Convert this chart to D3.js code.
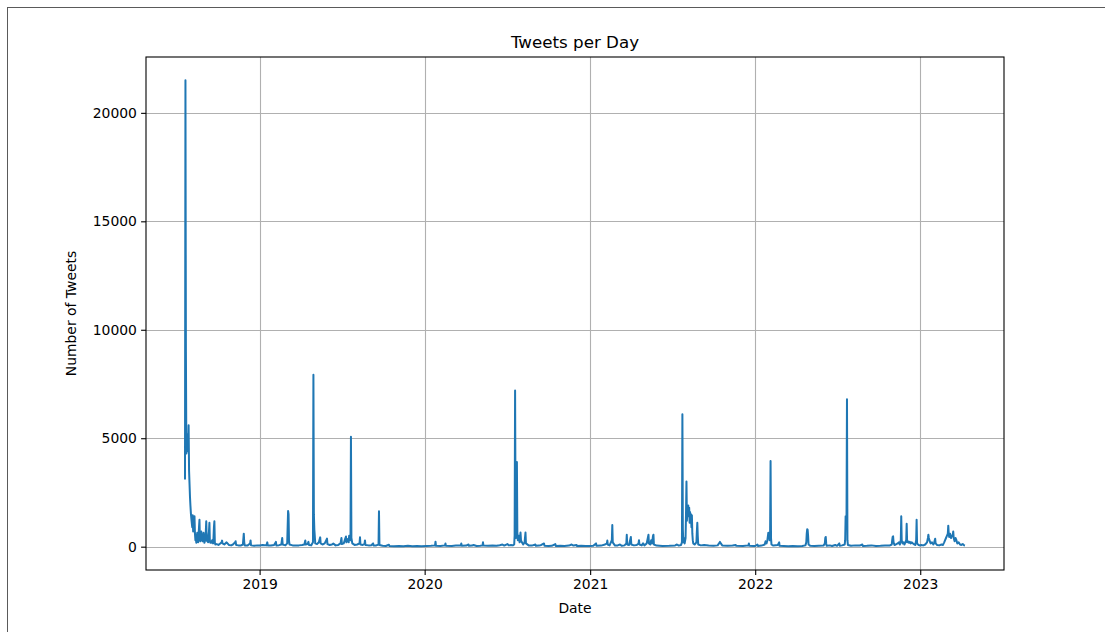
<!DOCTYPE html>
<html>
<head>
<meta charset="utf-8">
<script src="https://cdn.jsdelivr.net/npm/d3@7"></script>
<style>
  html, body { margin: 0; padding: 0; background: #ffffff; }
  svg { display: block; }
  text { font-family: "DejaVu Sans", sans-serif; fill: #000; }
</style>
</head>
<body>
<svg id="chart" width="1105" height="632"></svg>
<script>
// ---- data (daily tweet counts) ----
const tweets2018 = [
  ["2018-07-20",3100],["2018-07-21",21500],["2018-07-22",9000],["2018-07-23",4300],["2018-07-24",5000],
  ["2018-07-25",4400],["2018-07-26",5200],["2018-07-27",4600],["2018-07-28",5600],["2018-07-29",3500],
  ["2018-07-30",2900],["2018-07-31",2300],["2018-08-01",1900],["2018-08-02",1550],["2018-08-03",1300],
  ["2018-08-04",1100],["2018-08-05",900],["2018-08-06",1450],["2018-08-07",700],["2018-08-08",900],
  ["2018-08-09",1100],["2018-08-10",1400],["2018-08-11",600],["2018-08-12",300],["2018-08-13",400],
  ["2018-08-14",180],["2018-08-15",450],["2018-08-16",640],["2018-08-17",300],["2018-08-18",200],
  ["2018-08-19",500],["2018-08-20",900],["2018-08-21",1240],["2018-08-22",300],["2018-08-23",250],
  ["2018-08-24",500],["2018-08-25",700],["2018-08-26",450],["2018-08-27",300],["2018-08-28",250],
  ["2018-08-29",400],["2018-08-30",640],["2018-08-31",350],["2018-09-01",180],["2018-09-02",250],
  ["2018-09-03",400],["2018-09-04",700],["2018-09-05",1170],["2018-09-06",350],["2018-09-07",250],
  ["2018-09-08",300],["2018-09-09",200],["2018-09-10",500],["2018-09-11",700],["2018-09-12",1100],
  ["2018-09-13",250],["2018-09-14",180],["2018-09-15",200],["2018-09-16",250],["2018-09-17",180],
  ["2018-09-18",300],["2018-09-19",200],["2018-09-20",150],["2018-09-21",400],["2018-09-22",900],
  ["2018-09-23",1170],["2018-09-24",200],["2018-09-25",100],["2018-09-28",120],["2018-10-02",80],
  ["2018-10-06",150],["2018-10-09",200],["2018-10-10",280],["2018-10-11",150],["2018-10-15",100],
  ["2018-10-20",200],["2018-10-25",80],["2018-10-30",60],["2018-11-03",100],["2018-11-08",200],
  ["2018-11-09",250],["2018-11-10",80],["2018-11-15",60],["2018-11-20",50],["2018-11-25",100],
  ["2018-11-26",350],["2018-11-27",600],["2018-11-28",200],["2018-11-29",60],["2018-12-05",50],
  ["2018-12-11",150],["2018-12-12",290],["2018-12-13",60],["2018-12-20",40],["2018-12-27",60]
];
const tweets2019 = [
  ["2019-01-01",50],["2019-01-08",80],["2019-01-16",60],["2019-01-18",200],["2019-01-19",60],
  ["2019-01-26",50],["2019-02-02",80],["2019-02-06",220],["2019-02-07",60],["2019-02-13",70],
  ["2019-02-18",100],["2019-02-20",400],["2019-02-21",100],["2019-02-27",60],["2019-03-03",150],
  ["2019-03-04",900],["2019-03-05",1650],["2019-03-06",1500],["2019-03-07",300],["2019-03-08",100],
  ["2019-03-15",60],["2019-03-22",50],["2019-03-29",60],["2019-04-05",80],["2019-04-10",100],
  ["2019-04-12",290],["2019-04-13",100],["2019-04-17",120],["2019-04-19",220],["2019-04-20",80],
  ["2019-04-25",60],["2019-04-29",200],["2019-04-30",7930],["2019-05-01",1500],["2019-05-02",800],
  ["2019-05-03",500],["2019-05-04",150],["2019-05-08",120],["2019-05-12",200],["2019-05-15",430],
  ["2019-05-16",150],["2019-05-20",100],["2019-05-25",150],["2019-05-30",370],["2019-05-31",120],
  ["2019-06-05",80],["2019-06-10",100],["2019-06-13",150],["2019-06-18",60],["2019-06-24",80],
  ["2019-06-29",150],["2019-07-01",400],["2019-07-02",120],["2019-07-06",150],["2019-07-09",350],
  ["2019-07-11",470],["2019-07-12",200],["2019-07-15",350],["2019-07-17",200],["2019-07-18",500],
  ["2019-07-21",300],["2019-07-22",5070],["2019-07-23",400],["2019-07-25",150],["2019-07-30",80],
  ["2019-08-05",100],["2019-08-10",150],["2019-08-11",430],["2019-08-12",100],["2019-08-17",80],
  ["2019-08-21",120],["2019-08-22",290],["2019-08-23",80],["2019-08-30",60],["2019-09-05",70],
  ["2019-09-09",150],["2019-09-10",50],["2019-09-16",60],["2019-09-21",100],["2019-09-22",1630],
  ["2019-09-23",80],["2019-09-30",40],["2019-10-07",30],["2019-10-14",90],["2019-10-15",30],
  ["2019-10-25",20],["2019-11-05",30],["2019-11-15",20],["2019-11-25",40],["2019-12-05",20],
  ["2019-12-15",30],["2019-12-25",20]
];
const tweets2020 = [
  ["2020-01-05",30],["2020-01-15",40],["2020-01-24",60],["2020-01-25",230],["2020-01-26",40],
  ["2020-02-05",30],["2020-02-15",60],["2020-02-16",150],["2020-02-17",40],["2020-03-01",30],
  ["2020-03-10",50],["2020-03-21",60],["2020-03-22",150],["2020-03-23",40],["2020-04-02",50],
  ["2020-04-07",100],["2020-04-08",40],["2020-04-15",50],["2020-04-18",80],["2020-04-25",30],
  ["2020-05-03",40],["2020-05-08",60],["2020-05-09",200],["2020-05-10",50],["2020-05-20",40],
  ["2020-05-30",50],["2020-06-08",40],["2020-06-15",70],["2020-06-21",100],["2020-06-25",50],
  ["2020-07-02",120],["2020-07-05",60],["2020-07-10",80],["2020-07-14",60],["2020-07-17",100],
  ["2020-07-18",500],["2020-07-19",7200],["2020-07-20",1500],["2020-07-21",400],["2020-07-22",600],
  ["2020-07-23",3900],["2020-07-24",600],["2020-07-25",300],["2020-07-27",500],["2020-07-29",200],
  ["2020-07-31",650],["2020-08-01",300],["2020-08-03",200],["2020-08-06",100],["2020-08-09",200],
  ["2020-08-11",650],["2020-08-12",150],["2020-08-18",60],["2020-08-25",50],["2020-09-02",100],
  ["2020-09-03",40],["2020-09-10",50],["2020-09-15",80],["2020-09-21",150],["2020-09-22",40],
  ["2020-10-01",30],["2020-10-08",40],["2020-10-16",120],["2020-10-17",30],["2020-10-27",40],
  ["2020-11-05",30],["2020-11-15",50],["2020-11-21",100],["2020-11-25",50],["2020-12-02",80],
  ["2020-12-03",30],["2020-12-12",40],["2020-12-22",30]
];
const tweets2021 = [
  ["2021-01-01",30],["2021-01-08",40],["2021-01-14",150],["2021-01-15",40],["2021-01-25",50],
  ["2021-02-03",100],["2021-02-07",150],["2021-02-08",280],["2021-02-09",100],["2021-02-13",60],
  ["2021-02-18",300],["2021-02-19",1000],["2021-02-20",200],["2021-02-25",50],["2021-03-03",60],
  ["2021-03-08",100],["2021-03-12",40],["2021-03-18",60],["2021-03-22",150],["2021-03-23",550],
  ["2021-03-24",100],["2021-03-28",80],["2021-04-01",450],["2021-04-02",100],["2021-04-08",60],
  ["2021-04-14",80],["2021-04-18",150],["2021-04-19",300],["2021-04-20",100],["2021-04-25",60],
  ["2021-04-28",150],["2021-05-01",60],["2021-05-06",150],["2021-05-09",450],["2021-05-10",550],
  ["2021-05-11",150],["2021-05-14",100],["2021-05-16",300],["2021-05-18",150],["2021-05-20",500],
  ["2021-05-21",550],["2021-05-22",100],["2021-05-28",50],["2021-06-10",30],["2021-06-25",40],
  ["2021-07-08",60],["2021-07-12",100],["2021-07-16",50],["2021-07-21",80],["2021-07-23",200],
  ["2021-07-24",6100],["2021-07-25",800],["2021-07-26",200],["2021-07-27",400],["2021-07-29",150],
  ["2021-07-31",400],["2021-08-01",1500],["2021-08-02",3000],["2021-08-03",1200],["2021-08-04",1800],
  ["2021-08-05",1400],["2021-08-06",1900],["2021-08-07",1500],["2021-08-08",1800],["2021-08-09",1100],
  ["2021-08-10",1600],["2021-08-11",1300],["2021-08-12",1500],["2021-08-13",900],["2021-08-14",1450],
  ["2021-08-15",600],["2021-08-16",300],["2021-08-17",150],["2021-08-20",100],["2021-08-24",200],
  ["2021-08-25",700],["2021-08-26",1100],["2021-08-27",500],["2021-08-28",100],["2021-09-03",60],
  ["2021-09-10",80],["2021-09-20",50],["2021-10-01",40],["2021-10-10",60],["2021-10-13",150],
  ["2021-10-15",220],["2021-10-17",150],["2021-10-20",60],["2021-11-01",40],["2021-11-12",50],
  ["2021-11-19",80],["2021-11-20",40],["2021-12-05",30],["2021-12-17",60],["2021-12-18",150],
  ["2021-12-19",40],["2021-12-28",30]
];
const tweets2022 = [
  ["2022-01-01",30],["2022-01-06",100],["2022-01-07",30],["2022-01-15",50],["2022-01-22",100],
  ["2022-01-24",250],["2022-01-26",150],["2022-01-28",300],["2022-01-30",640],["2022-01-31",400],
  ["2022-02-01",600],["2022-02-02",300],["2022-02-03",700],["2022-02-04",3950],["2022-02-05",400],
  ["2022-02-06",100],["2022-02-10",50],["2022-02-20",80],["2022-02-23",200],["2022-02-24",40],
  ["2022-03-05",30],["2022-03-15",20],["2022-03-25",30],["2022-04-05",20],["2022-04-15",30],
  ["2022-04-22",60],["2022-04-24",200],["2022-04-25",600],["2022-04-26",800],["2022-04-27",780],
  ["2022-04-28",500],["2022-04-29",100],["2022-05-03",40],["2022-05-12",30],["2022-05-22",40],
  ["2022-06-01",50],["2022-06-04",150],["2022-06-05",400],["2022-06-06",450],["2022-06-07",150],
  ["2022-06-08",40],["2022-06-15",60],["2022-06-20",30],["2022-06-27",80],["2022-07-01",40],
  ["2022-07-06",150],["2022-07-07",40],["2022-07-12",60],["2022-07-18",100],["2022-07-19",300],
  ["2022-07-20",1400],["2022-07-21",1000],["2022-07-22",1450],["2022-07-23",6800],["2022-07-24",300],
  ["2022-07-25",80],["2022-08-01",40],["2022-08-10",60],["2022-08-20",50],["2022-08-26",100],
  ["2022-08-27",30],["2022-09-05",40],["2022-09-15",60],["2022-09-25",30],["2022-10-05",40],
  ["2022-10-15",60],["2022-10-25",50],["2022-10-30",100],["2022-10-31",300],["2022-11-01",450],
  ["2022-11-02",475],["2022-11-03",200],["2022-11-05",80],["2022-11-08",100],["2022-11-12",150],
  ["2022-11-15",200],["2022-11-17",100],["2022-11-19",300],["2022-11-20",1400],["2022-11-21",300],
  ["2022-11-23",150],["2022-11-25",200],["2022-11-27",100],["2022-11-29",200],["2022-12-01",300],
  ["2022-12-02",1060],["2022-12-03",200],["2022-12-05",250],["2022-12-07",180],["2022-12-09",230],
  ["2022-12-11",150],["2022-12-13",200],["2022-12-16",150],["2022-12-19",100],["2022-12-21",80],
  ["2022-12-23",300],["2022-12-24",1245],["2022-12-25",150],["2022-12-28",80],["2022-12-31",60]
];
const tweets2023 = [
  ["2023-01-03",80],["2023-01-08",60],["2023-01-12",100],["2023-01-16",200],["2023-01-18",400],
  ["2023-01-19",550],["2023-01-20",400],["2023-01-22",250],["2023-01-24",150],["2023-01-27",200],
  ["2023-01-30",100],["2023-02-01",200],["2023-02-03",370],["2023-02-04",150],["2023-02-07",80],
  ["2023-02-12",60],["2023-02-17",100],["2023-02-20",80],["2023-02-23",200],["2023-02-25",300],
  ["2023-02-27",400],["2023-03-01",500],["2023-03-03",600],["2023-03-04",970],["2023-03-05",600],
  ["2023-03-06",450],["2023-03-08",600],["2023-03-10",400],["2023-03-12",500],["2023-03-14",550],
  ["2023-03-15",700],["2023-03-16",400],["2023-03-18",250],["2023-03-20",400],["2023-03-22",300],
  ["2023-03-24",150],["2023-03-27",200],["2023-03-30",100],["2023-04-02",80],["2023-04-05",120],
  ["2023-04-08",60],["2023-04-10",50]
];
const yTickValues = [0, 5000, 10000, 15000, 20000];
const xTickYears = ["2019", "2020", "2021", "2022", "2023"];
const titleText = "Tweets per Day";
const xLabelText = "Date";
const yLabelText = "Number of Tweets";

// ---- build ----
const parse = d3.utcParse("%Y-%m-%d");
const series = [].concat(tweets2018, tweets2019, tweets2020, tweets2021, tweets2022, tweets2023)
  .map(([d, v]) => ({ date: parse(d), value: v }));

const svg = d3.select("#chart");
const W = 1105, H = 632;
const plot = { left: 146, right: 1004, top: 57, bottom: 570 };

// figure frame
svg.append("rect").attr("x", 7.5).attr("y", 7.5).attr("width", 1300).attr("height", 800)
  .attr("fill", "none").attr("stroke", "#5a5a5a").attr("stroke-width", 1);

const ext = d3.extent(series, d => d.date);
const span = ext[1] - ext[0];
const x = d3.scaleUtc()
  .domain([new Date(+ext[0] - span * 0.05), new Date(+ext[1] + span * 0.05)])
  .range([plot.left, plot.right]);
const maxV = d3.max(series, d => d.value), minV = 0;
const vspan = maxV - minV;
const y = d3.scaleLinear()
  .domain([minV - vspan * 0.05, maxV + vspan * 0.05])
  .range([plot.bottom, plot.top]);

const xTicks = xTickYears.map(s => d3.utcParse("%Y")(s));

// grid
const grid = svg.append("g").attr("stroke", "#b0b0b0").attr("stroke-width", 1.1);
grid.selectAll("line.vx").data(xTicks).join("line")
  .attr("x1", d => Math.round(x(d)) + 0.5).attr("x2", d => Math.round(x(d)) + 0.5)
  .attr("y1", plot.top).attr("y2", plot.bottom);
grid.selectAll("line.hy").data(yTickValues).join("line")
  .attr("y1", d => Math.round(y(d)) + 0.5).attr("y2", d => Math.round(y(d)) + 0.5)
  .attr("x1", plot.left).attr("x2", plot.right);

// line
const line = d3.line().x(d => x(d.date)).y(d => y(d.value));
svg.append("path").datum(series)
  .attr("d", line)
  .attr("fill", "none").attr("stroke", "#1f77b4").attr("stroke-width", 2)
  .attr("stroke-linejoin", "round");

// axes
const fontSize = "13.9px";
const xAxis = d3.axisBottom(x).tickValues(xTicks).tickFormat(d3.utcFormat("%Y"))
  .tickSize(4.9).tickPadding(4.2).tickSizeOuter(0);
const gx = svg.append("g").attr("transform", `translate(0,${plot.bottom})`).call(xAxis);
const yAxis = d3.axisLeft(y).tickValues(yTickValues).tickFormat(d3.format("d"))
  .tickSize(4.9).tickPadding(4.2).tickSizeOuter(0);
const gy = svg.append("g").attr("transform", `translate(${plot.left},0)`).call(yAxis);
[gx, gy].forEach(g => {
  g.select(".domain").remove();
  g.selectAll(".tick line").attr("stroke", "#000").attr("stroke-width", 1.1);
  g.selectAll(".tick text").attr("fill", "#000").style("font-family", "DejaVu Sans, sans-serif")
    .style("font-size", fontSize);
});

// spines
svg.append("rect")
  .attr("x", plot.left).attr("y", plot.top)
  .attr("width", plot.right - plot.left).attr("height", plot.bottom - plot.top)
  .attr("fill", "none").attr("stroke", "#000").attr("stroke-width", 1.1);

// labels
svg.append("text").attr("x", (plot.left + plot.right) / 2).attr("y", 47.5)
  .attr("text-anchor", "middle").style("font-size", "16.7px").text(titleText);
svg.append("text").attr("x", (plot.left + plot.right) / 2).attr("y", 613)
  .attr("text-anchor", "middle").style("font-size", fontSize).text(xLabelText);
svg.append("text")
  .attr("transform", `translate(76,${(plot.top + plot.bottom) / 2}) rotate(-90)`)
  .attr("text-anchor", "middle").style("font-size", fontSize).text(yLabelText);
</script>
</body>
</html>
